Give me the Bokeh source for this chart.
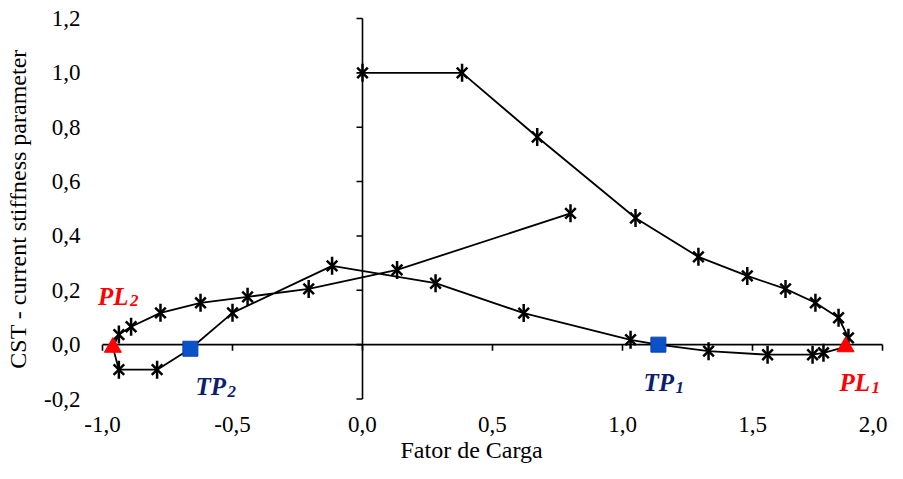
from bokeh.plotting import figure
from bokeh.models import FixedTicker, Range1d, Title
from bokeh.core.properties import value
from bokeh.embed import file_html
from bokeh.resources import INLINE
import math

# ---------------- data ----------------
x_ticks = [-1.0, -0.5, 0.0, 0.5, 1.0, 1.5, 2.0]
x_tick_labels = ["-1,0", "-0,5", "0,0", "0,5", "1,0", "1,5", "2,0"]
y_ticks = [-0.2, 0.0, 0.2, 0.4, 0.6, 0.8, 1.0, 1.2]
y_tick_labels = ["-0,2", "0,0", "0,2", "0,4", "0,6", "0,8", "1,0", "1,2"]

# load factor (Fator de Carga) along the equilibrium path
path_x = [0.000, 0.383, 0.672, 1.050, 1.292, 1.480, 1.627, 1.742, 1.831, 1.869,
          1.858, 1.773, 1.731, 1.558, 1.331, 1.138, 1.031, 0.620, 0.281, -0.117,
          -0.500, -0.662, -0.790, -0.937, -0.960, -0.937, -0.890, -0.777, -0.623,
          -0.442, -0.207, 0.133, 0.800]
# current stiffness parameter
path_y = [1.000, 1.000, 0.764, 0.466, 0.323, 0.253, 0.205, 0.154, 0.099, 0.025,
          -0.008, -0.030, -0.037, -0.037, -0.024, 0.000, 0.018, 0.116, 0.226, 0.290,
          0.117, -0.015, -0.092, -0.092, -0.010, 0.037, 0.066, 0.117, 0.154,
          0.176, 0.205, 0.275, 0.483]

# limit points
pl_x = [1.858, -0.960]
pl_y = [-0.008, -0.010]
pl_sub = ["1", "2"]
# turning points
tp_x = [1.138, -0.662]
tp_y = [0.000, -0.015]
tp_sub = ["1", "2"]

x_title = "Fator de Carga"
y_title = "CST - current stiffness parameter"

# ---------------- figure ----------------
FONT = "Liberation Serif"

p = figure(width=887, height=463, output_backend="svg", toolbar_location=None,
           x_range=Range1d(-1.03846, 2.01923), y_range=Range1d(-0.22018, 1.21835),
           min_border_left=92, min_border_right=0, min_border_top=13,
           min_border_bottom=58)
p.outline_line_color = None
p.xgrid.visible = False
p.ygrid.visible = False
p.background_fill_color = "white"
p.border_fill_color = "white"

# bottom axis: labels only
xa = p.xaxis[0]
xa.ticker = FixedTicker(ticks=x_ticks)
xa.major_label_overrides = {t: l for t, l in zip(x_ticks, x_tick_labels)}
xa.axis_line_color = None
xa.major_tick_line_color = None
xa.minor_tick_line_color = None
xa.major_tick_out = 0
xa.major_tick_in = 0
xa.minor_tick_out = 0
xa.major_label_standoff = 12
xa.major_label_text_font = FONT
xa.major_label_text_font_size = "23px"
xa.major_label_text_color = "black"

# left axis: labels + title
ya = p.yaxis[0]
ya.ticker = FixedTicker(ticks=y_ticks)
ya.major_label_overrides = {t: l for t, l in zip(y_ticks, y_tick_labels)}
ya.axis_line_color = None
ya.major_tick_line_color = None
ya.minor_tick_line_color = None
ya.major_tick_out = 0
ya.major_tick_in = 0
ya.minor_tick_out = 0
ya.major_label_standoff = 12
ya.major_label_text_font = FONT
ya.major_label_text_font_size = "23px"
ya.major_label_text_color = "black"
ya.axis_label = y_title
ya.axis_label_text_font = FONT
ya.axis_label_text_font_size = "24px"
ya.axis_label_text_font_style = "normal"
ya.axis_label_text_color = "black"
ya.axis_label_standoff = 10

# x title below the axis
p.add_layout(Title(text=x_title, align="left", offset=308, standoff=1,
                   text_font=FONT, text_font_size="24px",
                   text_font_style="normal", text_color="black"), "below")

# axis lines crossing at the origin
p.segment(x0=[0.0], y0=[y_ticks[0]], x1=[0.0], y1=[y_ticks[-1]],
          line_color="black", line_width=1.6)
p.segment(x0=[x_ticks[0]], y0=[0.0], x1=[x_ticks[-1]], y1=[0.0],
          line_color="black", line_width=1.6)
p.ray(x=[0.0] * len(y_ticks), y=y_ticks, length=6, length_units="screen",
      angle=math.pi, line_color="black", line_width=1.6)
p.ray(x=x_ticks, y=[0.0] * len(x_ticks), length=6, length_units="screen",
      angle=-math.pi / 2, line_color="black", line_width=1.6)

# equilibrium path
p.line(path_x, path_y, line_color="black", line_width=1.8)

special = set(zip(pl_x, pl_y)) | set(zip(tp_x, tp_y))
star_x = [x for x, y in zip(path_x, path_y) if (x, y) not in special]
star_y = [y for x, y in zip(path_x, path_y) if (x, y) not in special]
p.scatter(star_x, star_y, marker="x", size=15, line_color="black", line_width=2.5)
p.scatter(star_x, star_y, marker="dash", size=18, angle=math.pi / 2,
          line_color="black", line_width=2.5)

p.scatter(tp_x, tp_y, marker="square", size=15, fill_color="#0a52c8",
          line_color="#0a40b0", line_width=1)
p.scatter(pl_x, pl_y, marker="triangle", size=17, fill_color="#ff0000",
          line_color="#ff0000", line_width=1)

# point labels (main text + subscript)
def point_label(x, y, main, sub, color, dx, dy, sdy):
    p.text(x=[x], y=[y], text=[main], x_offset=dx, y_offset=dy,
           text_font=value(FONT), text_font_size=value("25px"),
           text_font_style="bold italic", text_color=color,
           text_align="left", text_baseline="alphabetic")
    p.text(x=[x], y=[y], text=[sub], x_offset=dx + 32, y_offset=sdy,
           text_font=value(FONT), text_font_size=value("17px"),
           text_font_style="bold italic", text_color=color,
           text_align="left", text_baseline="alphabetic")

RED = "#ff0000"
NAVY = "#0c1f6e"
point_label(pl_x[0], pl_y[0], "PL", pl_sub[0], RED, -6, 36, 41)
point_label(pl_x[1], pl_y[1], "PL", pl_sub[1], RED, -15, -51, -47)
point_label(tp_x[0], tp_y[0], "TP", tp_sub[0], NAVY, -15, 38, 43)
point_label(tp_x[1], tp_y[1], "TP", tp_sub[1], NAVY, 5, 38, 43)

open("out.html", "w").write(file_html(p, INLINE))
